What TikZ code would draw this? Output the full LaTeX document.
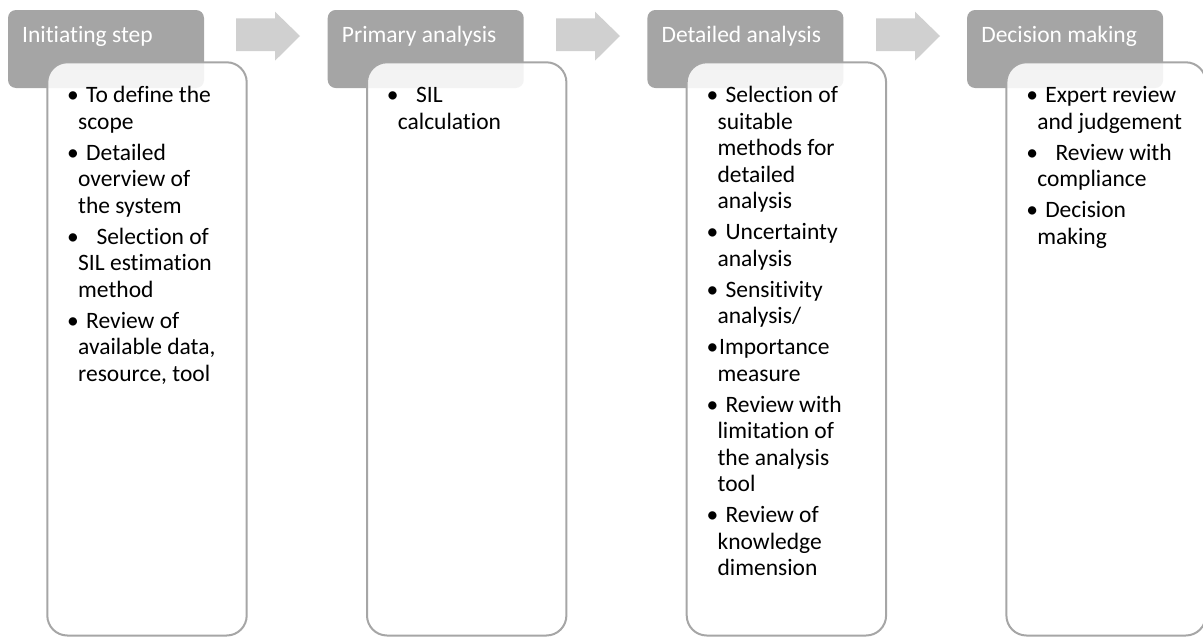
\documentclass[tikz,border=0pt]{standalone}
\usepackage{fontspec}
\setmainfont{Carlito}[Ligatures=NoCommon]
\begin{document}
\definecolor{stagegrey}{HTML}{A5A5A5}
\definecolor{framegrey}{HTML}{A6A6A6}
\definecolor{arrowgrey}{HTML}{D0D0D0}
% bullet followed by a gap of the given width (pt)
\newcommand\bul[1][19]{\makebox[#1pt][l]{\textbullet}}
\newcommand\cont{\hspace*{11pt}}
\newcommand\gap{\\[4.5pt]}
\begin{tikzpicture}[x=1pt,y=-1pt,
  stagehead/.style={draw=none,fill=stagegrey,rounded corners=8pt},
  stagebody/.style={draw=framegrey,line width=2pt,fill=white,fill opacity=0.87,rounded corners=20pt},
  headtext/.style={anchor=base west,inner sep=0pt,text=white,font=\fontsize{23.5}{26.5}\selectfont},
  bodytext/.style={anchor=base west,inner sep=0pt,text=black,font=\fontsize{23.5}{26.5}\selectfont},
  stagearrow/.style={fill=arrowgrey,draw=none}]
\useasboundingbox (0,0) rectangle (1203,637);
\clip (0,0) rectangle (1203,637);

% block arrows between the stages
\foreach \a in {236,556,876}{
  \fill[stagearrow] (\a,18.3) -- ++(39,0) -- ++(0,-6.6) -- (\a+64,36)
    -- (\a+39,60.7) -- ++(0,-9.7) -- (\a,51) -- cycle;
}

% stage 1
\path[stagehead] (8,10) rectangle (204,88);
\path[stagebody] (47.3,62.3) rectangle (246.7,635.5);
\node[headtext] (h1) at (22,42.3) {Initiating step};
\node[bodytext] (b1) at (67,102.7) {\parbox[t]{190pt}{\raggedright
\bul To define the\\ \cont scope\gap
\bul Detailed\\ \cont overview of\\ \cont the system\gap
\bul[24] Selection of\\ \cont SIL estimation\\ \cont method\gap
\bul Review of\\ \cont available data,\\ \cont resource, tool}};

% stage 2
\path[stagehead] (327.7,10) rectangle (523.7,88);
\path[stagebody] (367,62.3) rectangle (566.4,635.5);
\node[headtext] (h2) at (341.7,42.3) {Primary analysis};
\node[bodytext] (b2) at (386.7,102.7) {\parbox[t]{190pt}{\raggedright
\bul[24] SIL\\ \cont calculation}};

% stage 3
\path[stagehead] (647.4,10) rectangle (843.4,88);
\path[stagebody] (686.7,62.3) rectangle (886.1,635.5);
\node[headtext] (h3) at (661.4,42.3) {Detailed analysis};
\node[bodytext] (b3) at (706.4,102.7) {\parbox[t]{190pt}{\raggedright
\bul Selection of\\ \cont suitable\\ \cont methods for\\ \cont detailed\\ \cont analysis\gap
\bul Uncertainty\\ \cont analysis\gap
\bul Sensitivity\\ \cont analysis/\gap
\bul[12.5]Importance\\ \cont measure\gap
\bul Review with\\ \cont limitation of\\ \cont the analysis\\ \cont tool\gap
\bul Review of\\ \cont knowledge\\ \cont dimension}};

% stage 4
\path[stagehead] (967.1,10) rectangle (1163.1,88);
\path[stagebody] (1006.4,62.3) rectangle (1205.8,635.5);
\node[headtext] (h4) at (981.1,42.3) {Decision making};
\node[bodytext] (b4) at (1026.1,102.7) {\parbox[t]{190pt}{\raggedright
\bul Expert review\\ \cont and judgement\gap
\bul[24] Review with\\ \cont compliance\gap
\bul Decision\\ \cont making}};
\end{tikzpicture}
\end{document}
